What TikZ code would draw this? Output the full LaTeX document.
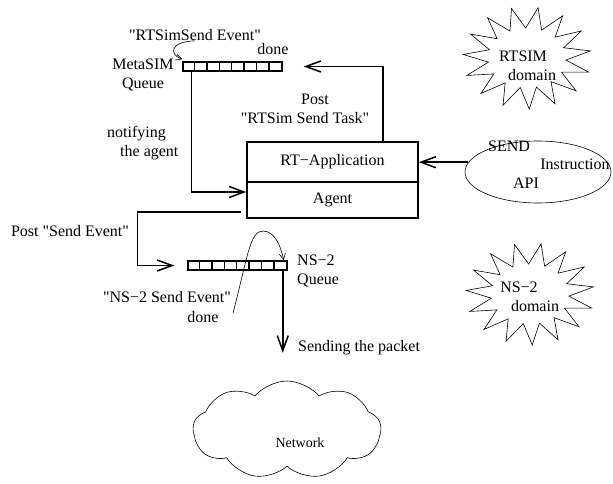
\documentclass[tikz,border=0pt]{standalone}
\usepackage{fontspec}
\setmainfont{Liberation Serif}[Ligatures=TeXOff]
\usetikzlibrary{arrows.meta,shapes.geometric,shapes.symbols}

\tikzset{
  layer/.style={draw, line width=1.5pt, minimum width=171pt, inner sep=0pt},
  queue/.style={draw, line width=1.5pt, minimum width=99pt, minimum height=9pt, inner sep=0pt},
  flow/.style={line width=1.5pt, -{Straight Barb[length=15pt,width=11pt]}},
  hint/.style={line width=0.6pt, -{Straight Barb[length=6pt,width=6pt]}},
  label/.style={inner sep=0pt, align=center},
  burstline/.style={line width=0.6pt, line join=miter},
}

\begin{document}
\begin{tikzpicture}[x=1pt, y=-1pt, font=\fontsize{16}{19}\selectfont]
\useasboundingbox (0,0) rectangle (613,484);

	% application and agent
	\node[layer, minimum height=40pt] (app) at (332.5,162) {RT−Application};
	\node[layer, minimum height=36pt] (agent) at (332.5,200) {Agent};

	% the two queues
	\node[queue] (msq) at (232.5,66.5) {};
	\node[queue] (nsq) at (237.5,265.5) {};
	\foreach \q in {msq,nsq}
		\foreach \i in {1,...,7}
			\draw[line width=1.3pt] ([xshift=\i*12.375pt]\q.south west) -- ([xshift=\i*12.375pt]\q.north west);

	% API
	\node[ellipse, draw, line width=0.6pt, minimum width=146pt, minimum height=62pt] (api) at (538,172) {};
	\node[label] (sendtxt) at (509,146) {SEND};
	\node[label] (instrtxt) at (575,164) {Instruction};
	\node[label] (apitxt) at (526,183) {API};

	% domains
	\foreach \cx/\cy/\rot in {527/58/-8, 530/294/-8}
		\draw[burstline] plot[samples at={0,...,29}]
			({\cx+ifthenelse(mod(\x,2)==0,64,39)*cos(\x*12+\rot)},
			 {\cy+ifthenelse(mod(\x,2)==0,51,30)*sin(\x*12+\rot)}) -- cycle;
	\node[label] (rtsimtxt) at (523,56) {RTSIM};
	\node[label] (rtdomtxt) at (532,75) {domain};
	\node[label] (nstxt) at (519,287) {NS−2};
	\node[label] (nsdomtxt) at (535,306) {domain};

	% network
	\node[cloud, draw, line width=0.6pt, cloud puffs=9, cloud puff arc=100, aspect=1.9, minimum width=188pt, minimum height=98pt] (net) at (287,430) {};
	\node[label, font=\fontsize{14}{16}\selectfont] (nettxt) at (300,443) {Network};

	% labels
	\node[label] (ev1) at (195,35) {"RTSimSend Event"};
	\node[label] (done1) at (273,49) {done};
	\node[label] (msqtxt) at (143,75) {MetaSIM\\Queue};
	\node[label, align=left, anchor=west] (notify) at (107,143) {notifying\\\hspace{13pt}the agent};
	\node[label] (posttask) at (305,109) {\hspace{20pt}Post\\"RTSim Send Task"};
	\node[label] (postev) at (70,231) {Post "Send Event"};
	\node[label, align=left, anchor=west] (nsqtxt) at (297,271) {NS−2\\Queue};
	\node[label] (ev2) at (167,297) {"NS−2 Send Event"};
	\node[label] (done2) at (203,317) {done};

	% connectors
	\draw[flow] ([xshift=9pt]msq.south west) |- ([yshift=8pt]agent.west);
	\draw[flow] ([xshift=50.5pt]app.north) |- ([xshift=21pt]msq.east);
	\draw[flow] (api.172) -- (api.172 -| app.east);
	\draw[flow] ([shift={(-5pt,7pt)}]agent.south west) -- ++(-104,0) |- ([xshift=-13pt]nsq.west);
	\draw[flow] ([xshift=-5pt]nsq.south east) -- ++(0,82) coordinate (pkt);
	\node[label, anchor=west] (sendpkt) at (298,348) {Sending the packet};

	\draw[hint] (ev1.south) .. controls +(-27,1) and +(-12,-4) .. ([yshift=2pt]msq.north west);
	\draw[hint] ([shift={(2pt,-10pt)}]ev2.south east) .. controls (248,255) and (250,231) .. (263,231)
		.. controls (275,231) and (281,247) .. ([xshift=-4pt]nsq.north east);

\end{tikzpicture}
\end{document}
